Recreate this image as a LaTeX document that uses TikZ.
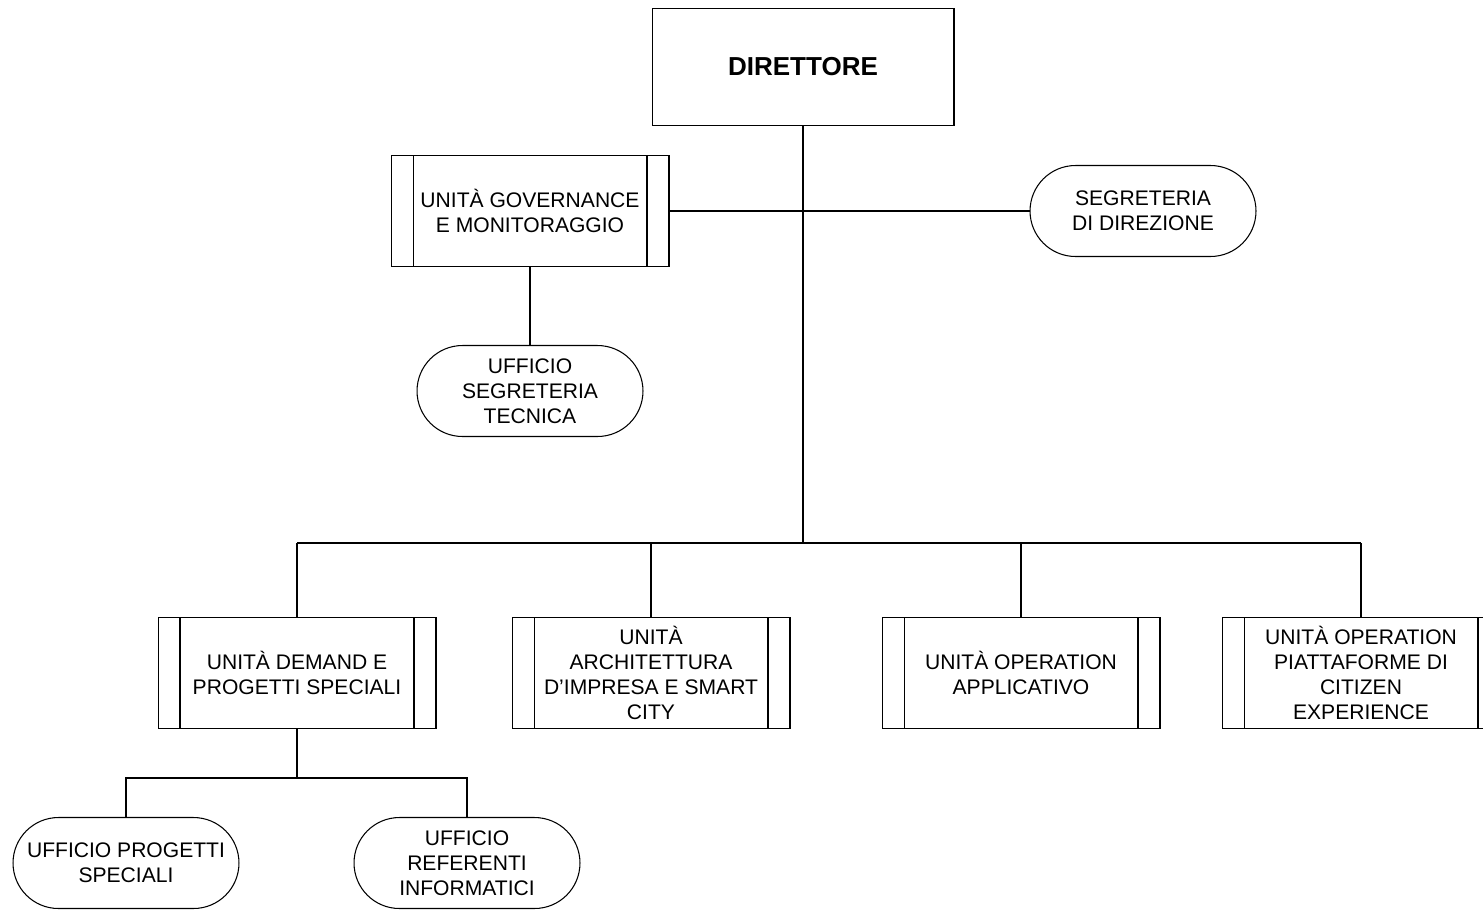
\documentclass[tikz,border=0pt]{standalone}
\usepackage{fontspec}
\setmainfont{Liberation Sans}
\usetikzlibrary{shapes.misc}
\tikzset{
  unitbox/.style={draw, line width=0.6pt, minimum width=5.56cm, minimum height=2.22cm,
    inner sep=0pt, align=center, font=\fontsize{12}{14.2}\selectfont,
    path picture={
      \draw[line width=0.6pt] ([xshift=0.44cm]path picture bounding box.north west)
        -- ([xshift=0.44cm]path picture bounding box.south west);
      \draw[line width=0.6pt] ([xshift=-0.44cm]path picture bounding box.north east)
        -- ([xshift=-0.44cm]path picture bounding box.south east);
    }},
  officepill/.style={draw, line width=0.6pt, rounded rectangle, minimum width=4.52cm,
    minimum height=1.82cm, inner sep=0pt, align=center, font=\fontsize{12}{14.2}\selectfont},
  headbox/.style={draw, line width=0.6pt, minimum width=6.04cm, minimum height=2.34cm,
    font=\fontsize{14.8}{17}\selectfont\bfseries},
  mainline/.style={line width=1.1pt},
  sideline/.style={line width=0.6pt}
}
\begin{document}
\begin{tikzpicture}[x=0.02cm, y=-0.02cm]
  \useasboundingbox (0,0) rectangle (1483,910);
  % head
  \node[headbox] (dir) at (803,67) {DIRETTORE};
  % staff units
  \node[unitbox] (gov) at (530,211) {UNITÀ GOVERNANCE\\E MONITORAGGIO};
  \node[officepill] (segdir) at (1143,211) {SEGRETERIA\\DI DIREZIONE};
  \node[officepill] (segtec) at (530,391) {UFFICIO\\SEGRETERIA\\TECNICA};
  % line units
  \node[unitbox] (demand) at (297,673) {UNITÀ DEMAND E\\PROGETTI SPECIALI};
  \node[unitbox] (arch) at (651,673) {UNITÀ\\ARCHITETTURA\\D’IMPRESA E SMART\\CITY};
  \node[unitbox] (opapp) at (1021,673) {UNITÀ OPERATION\\APPLICATIVO};
  \node[unitbox] (opcit) at (1361,673) {UNITÀ OPERATION\\PIATTAFORME DI\\CITIZEN\\EXPERIENCE};
  % offices under demand
  \node[officepill] (progspec) at (126,863) {UFFICIO PROGETTI\\SPECIALI};
  \node[officepill] (refinf) at (467,863) {UFFICIO\\REFERENTI\\INFORMATICI};
  % junctions
  \coordinate (staffjoin) at (803,211);
  \coordinate (busjoin) at (803,543);
  \coordinate (busleft) at (297,543);
  \coordinate (busright) at (1361,543);
  \coordinate (demandjoin) at (297,778);
  % connectors
  \draw[mainline] (dir.south) -- (busjoin);
  \draw[mainline] (gov.east) -- (staffjoin);
  \draw[sideline] (staffjoin) -- (segdir.west);
  \draw[mainline] (gov.south) -- (segtec.north);
  \draw[mainline] (busleft) -- (busjoin) -- (busright);
  \draw[sideline] (busleft) -- (demand.north);
  \draw[sideline] (arch.north |- busjoin) -- (arch.north);
  \draw[sideline] (opapp.north |- busjoin) -- (opapp.north);
  \draw[mainline] (busright) -- (opcit.north);
  \draw[mainline] (demand.south) -- (demandjoin);
  \draw[mainline] (progspec.north) |- (demandjoin) -| (refinf.north);
\end{tikzpicture}
\end{document}
